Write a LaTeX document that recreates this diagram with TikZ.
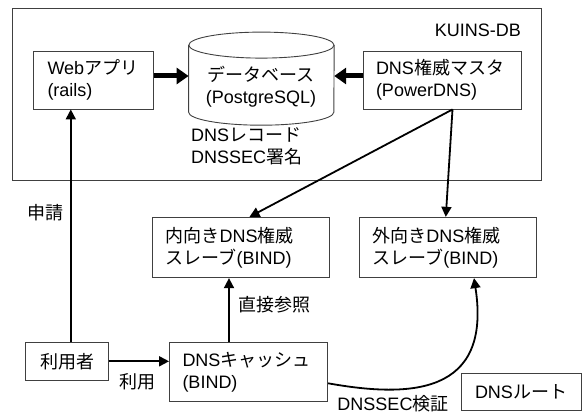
\documentclass[tikz,border=0pt]{standalone}
\usepackage{fontspec}
\setmainfont{Liberation Sans}
\newfontfamily\jpfont{Noto Sans CJK JP}
\newcommand\jt[1]{{\jpfont #1}}
\usetikzlibrary{arrows.meta,calc}
\begin{document}
\begin{tikzpicture}[x=1pt,y=-1pt,font=\fontsize{18}{22}\selectfont,
  box/.style={draw=black!75,line width=0.9pt,rectangle,inner ysep=0pt,align=left},
  cbox/.style={draw=black!75,line width=0.9pt,rectangle,inner sep=0pt,align=center},
  conn/.style={line width=1.8pt,-{Triangle[length=10pt,width=10pt]}},
  fat/.style={line width=5pt,-{Triangle[length=12pt,width=16pt]}},
  lbl/.style={inner sep=0pt}]
\useasboundingbox (0,0) rectangle (584,414);
% container
\node[draw=black!75,line width=0.9pt,minimum width=528.7pt,minimum height=171.7pt,inner sep=0pt] (kuins) at (276.65,94.15) {};
\node[lbl,anchor=east] (kuinslabel) at (521,30) {KUINS-DB};
% boxes
\node[box,minimum width=120pt,minimum height=58pt,text width=92pt,inner xsep=14pt] (web) at (93.5,80) {Web\jt{アプリ}\\(rails)};
\node[box,minimum width=158.4pt,minimum height=58pt,text width=132.4pt,inner xsep=13pt] (master) at (442.2,80) {DNS\jt{権威マスタ}\\(PowerDNS)};
\node[box,minimum width=177pt,minimum height=60.4pt,text width=151pt,inner xsep=13pt] (inner) at (241.2,247.5) {\jt{内向き}DNS\jt{権威}\\\jt{スレーブ}(BIND)};
\node[box,minimum width=177pt,minimum height=60.4pt,text width=151pt,inner xsep=13pt] (outer) at (447.9,247.5) {\jt{外向き}DNS\jt{権威}\\\jt{スレーブ}(BIND)};
\node[box,minimum width=158.2pt,minimum height=59.4pt,text width=132.2pt,inner xsep=13pt] (cache) at (248.6,372) {DNS\jt{キャッシュ}\\(BIND)};
\node[cbox,minimum width=82.6pt,minimum height=37.3pt] (user) at (67,361.3) {\jt{利用者}};
\node[cbox,minimum width=120pt,minimum height=37pt] (root) at (521,391.5) {DNS\jt{ルート}};
% database cylinder
\node[inner sep=0pt,minimum width=145.2pt,minimum height=92.7pt] (db) at (261.4,78.65) {};
\draw[draw=black!75,line width=0.9pt] ($(db.north)+(0,13)$) ellipse [x radius=72.6,y radius=13];
\draw[draw=black!75,line width=0.9pt] ($(db.north west)+(0,13)$) -- ($(db.south west)+(0,-13)$)
  arc[start angle=180,end angle=0,x radius=72.6,y radius=13] -- ($(db.north east)+(0,13)$);
\node[align=center,inner sep=0pt] (dbt) at (261,86.4) {\jt{データベース}\\(PostgreSQL)};
\node[lbl,anchor=west,align=left] (rec) at (191,146) {DNS\jt{レコード}\\DNSSEC\jt{署名}};
% connectors
\draw[fat] (web.east |- 0,76) -- (db.west |- 0,76);
\draw[fat] (master.west |- 0,76) -- (db.east |- 0,76);
\draw[conn] (master.south -| 452.5,0) -- (inner.north -| 249.5,0);
\draw[conn] (master.south -| 452.5,0) -- (outer.north -| 445.8,0);
\draw[conn] (user.north -| 70.8,0) -- (web.south -| 70.8,0);
\draw[conn] (user.east) -- (cache.west |- user.east);
\draw[conn] (cache.north -| 229,0) -- (inner.south -| 229,0);
\draw[conn] (cache.east |- 0,383.3) .. controls (410,398) and (492,395) .. (outer.south -| 474,0);
% labels
\node[lbl] (shinsei) at (45.7,213) {\jt{申請}};
\node[lbl] (riyou) at (137.5,381.7) {\jt{利用}};
\node[lbl] (chokusetsu) at (274.7,305) {\jt{直接参照}};
\node[lbl] (kensho) at (393,403.5) {DNSSEC\jt{検証}};
\end{tikzpicture}
\end{document}
